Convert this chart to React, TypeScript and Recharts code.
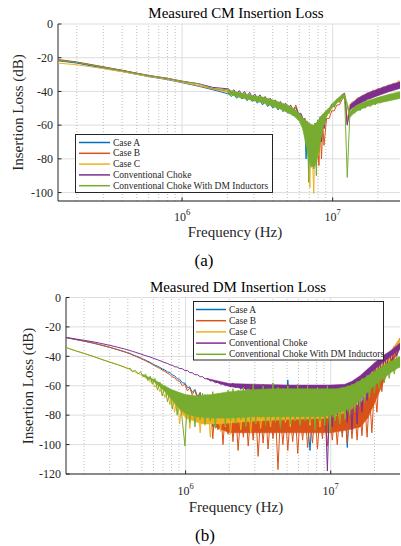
import React from "react";
import { Area, CartesianGrid, ComposedChart, Line, ReferenceLine, XAxis, YAxis } from "recharts";

// ---------- shared ----------
const seriesNames = [
  "Case A",
  "Case B",
  "Case C",
  "Conventional Choke",
  "Conventional Choke With DM Inductors",
];
const seriesColors = ["#0072BD", "#D95319", "#EDB120", "#7E2F8E", "#77AC30"];
const seriesKeys = ["a", "b", "c", "p", "g"];

const decadeTicks = [1e6, 1e7];
const minorTicks = [
  2e5, 3e5, 4e5, 5e5, 6e5, 7e5, 8e5, 9e5,
  2e6, 3e6, 4e6, 5e6, 6e6, 7e6, 8e6, 9e6,
  2e7,
];
const cmYTicks = [-100, -80, -60, -40, -20, 0];
const dmYTicks = [-120, -100, -80, -60, -40, -20, 0];

// ---------- (a) CM insertion loss : traces ----------
const cmFreq = [
  1.5e5, 2e5, 2.85e5, 4e5, 4.7e5, 6e5, 8e5, 1e6, 1.3e6, 1.6e6,
  2.04e6, 2.12e6, 2.21e6, 2.3e6, 2.4e6, 2.5e6, 2.6e6, 2.7e6, 2.81e6, 2.92e6,
  3.04e6, 3.16e6, 3.29e6, 3.42e6, 3.56e6, 3.7e6, 3.85e6, 4.0e6, 4.16e6, 4.33e6,
  4.5e6, 4.68e6, 4.87e6, 5.06e6, 5.26e6, 5.47e6, 5.69e6, 5.92e6, 6.16e6, 6.4e6,
  6.53e6, 6.66e6, 6.8e6, 6.93e6, 7.06e6, 7.2e6, 7.35e6, 7.49e6, 7.64e6, 7.79e6,
  7.95e6, 8.1e6, 8.27e6, 8.43e6, 8.6e6, 8.76e6, 9.11e6, 9.48e6, 9.86e6, 1.025e7,
  1.066e7, 1.109e7, 1.153e7, 1.2e7, 1.25e7, 1.3e7, 1.35e7, 1.4e7, 1.46e7, 1.52e7,
  1.58e7, 1.64e7, 1.71e7, 1.78e7, 1.85e7, 1.92e7, 2.0e7, 2.08e7, 2.16e7, 2.25e7,
  2.34e7, 2.43e7, 2.53e7, 2.63e7, 2.74e7, 2.85e7,
];
const cmCaseA = [
  -21.8, -23.2, -25.8, -28.2, -29.4, -31.2, -33, -34.8, -37, -39,
  -41.5, -43, -41.5, -44, -42.5, -44.5, -43, -45.5, -43.5, -46,
  -44.5, -47, -45, -48, -46, -49, -47, -50, -48, -51,
  -49, -52, -50, -53, -51, -54.5, -52.5, -57, -56.5, -62,
  -60, -80, -62, -86, -61, -78, -60, -82, -59, -76,
  -57, -70, -55, -64, -53.5, -58, -52, -52.5, -48, -49,
  -45.5, -46, -43, -42.5, -59, -51, -48, -49, -45.5, -47,
  -44, -45.5, -42.5, -44, -41, -42.5, -40, -41.5, -39, -40.5,
  -38, -39.5, -37, -38.5, -36, -37.5,
];
const cmCaseB = [
  -21, -22.5, -25, -27.5, -28.8, -30.7, -32.6, -34.5, -36.7, -38.5,
  -40, -41, -40.5, -42, -41.5, -42.5, -42, -43.5, -43, -44,
  -43.5, -44.5, -44, -45.5, -45, -46.5, -46, -47.5, -47, -48.5,
  -48, -49.5, -49, -50.5, -50, -51.5, -48, -53, -54, -57,
  -56, -60, -58, -66, -60, -72, -61, -78, -62, -85,
  -64, -84, -62, -80, -60, -72, -56, -56, -51.5, -51.5,
  -48, -48, -45, -43, -57, -51, -48, -49, -45.5, -47,
  -44, -45.5, -42.5, -44, -41, -42.5, -40, -41.5, -39, -40.5,
  -38, -39.5, -37, -38.5, -36, -37.5,
];
const cmCaseC = [
  -23.2, -24.2, -26.2, -28.3, -29.4, -31.1, -32.8, -34.5, -36.6, -38.5,
  -40.5, -41.5, -41, -42, -41.5, -42.5, -42, -43.5, -43, -44,
  -43.5, -44.5, -44, -45.5, -45, -46.5, -46, -47.5, -47, -48.5,
  -48, -49.5, -49, -50.5, -50, -52, -51.5, -54, -55, -59,
  -57, -66, -59, -80, -97, -62, -80, -100.5, -63, -84,
  -60, -78, -57, -72, -55, -62, -52, -53, -48.5, -49,
  -45.5, -46, -42.5, -42, -58, -48, -46, -47, -43.5, -45,
  -42, -43.5, -40.5, -42, -39, -40.5, -38, -39.5, -37, -38.5,
  -36, -37.5, -35, -36.5, -33.5, -35,
];
const cmConv = [
  -21.5, -22.8, -25.2, -27.5, -28.7, -30.5, -32.2, -33.9, -35.5, -37.6,
  -38.5, -40.5, -39, -41.5, -39.5, -42, -40, -43, -40.5, -43.5,
  -41.5, -44, -42, -45, -43, -46, -44, -47, -45, -48,
  -46, -49, -47, -50, -48, -51.5, -49.5, -53, -53, -57,
  -56, -62, -58, -70, -60, -74, -60, -78, -59, -80,
  -58, -72, -56, -70, -54, -62, -51.5, -52, -47.5, -48.5,
  -45, -45.5, -42, -41, -60, -50, -47.5, -49, -45, -47,
  -43.5, -45.5, -42, -44, -40.5, -42.5, -39.5, -41.5, -38.5, -40.5,
  -37.5, -39.5, -36.5, -38.5, -35, -37.5,
];
const cmConvDM = [
  -21.4, -22.8, -25.2, -27.6, -28.8, -30.6, -32.3, -34, -35.6, -38.3,
  -39, -42, -40, -43, -41, -44, -41.5, -45, -42, -45.5,
  -43, -46, -43.5, -47, -44.5, -48, -45.5, -49.5, -46.5, -50.5,
  -47.5, -51.5, -48.5, -52.5, -49.5, -54, -51, -56.5, -54.5, -61,
  -56.5, -72, -58, -94, -59.5, -85, -60, -86, -59, -90,
  -57, -76, -55, -67, -53.5, -60, -51.5, -53, -48, -49.5,
  -45.5, -46.5, -43, -42.5, -91, -54, -51, -53, -49, -51.5,
  -48, -50, -47, -49, -46, -48, -45, -47, -44, -46,
  -43, -45, -42, -44.5, -41.5, -43.5,
];

// ---------- (a) CM : spread of the dense measurement noise (low, high) ----------
const cmConvDMBandFreq = [
  2e6, 2.5e6, 3e6, 3.5e6, 4e6, 4.5e6, 5e6, 5.5e6, 6e6, 6.3e6,
  6.6e6, 6.9e6, 7.2e6, 7.5e6, 7.8e6, 8.1e6, 8.4e6, 8.7e6, 9e6, 9.5e6,
  1e7, 1.05e7, 1.1e7, 1.15e7, 1.2e7, 1.3e7, 1.4e7, 1.5e7, 1.7e7, 2e7,
  2.4e7, 2.85e7,
];
const cmConvDMLow = [
  -41.5, -44, -45.5, -47, -49, -50.5, -52.5, -54.5, -57.5, -62,
  -70, -80, -84, -85, -82, -75, -67, -60, -56, -52,
  -49.5, -47.5, -46, -44.5, -43.5, -55.5, -52.5, -51, -49, -47,
  -45.5, -44,
];
const cmConvDMHigh = [
  -39, -41, -42.5, -43.5, -45, -46.5, -48, -50, -53, -55.5,
  -57, -58.5, -59.5, -60, -58.5, -56.5, -54.5, -53, -51.5, -49.5,
  -47, -45, -43.5, -42, -41.5, -52, -49, -47.5, -45.5, -43.5,
  -41.5, -40,
];
const cmConvBandFreq = [1.3e7, 1.4e7, 1.5e7, 1.7e7, 2e7, 2.4e7, 2.85e7];
const cmConvLow = [-51, -49, -47.5, -45, -42.5, -40, -38];
const cmConvHigh = [-48, -45.5, -43.5, -41, -38.5, -36, -34];

// ---------- (b) DM insertion loss : traces ----------
const dmFreq = [
  1.5e5, 1.75e5, 2e5, 2.3e5, 2.6e5, 3e5, 3.4e5, 3.8e5, 4.0e5, 4.15e5,
  4.3e5, 4.5e5, 4.7e5, 4.9e5, 5.1e5, 5.3e5, 5.5e5, 5.7e5, 5.9e5, 6.15e5,
  6.4e5, 6.65e5, 6.9e5, 7.2e5, 7.5e5, 7.8e5, 8.1e5, 8.4e5, 8.75e5, 9.1e5,
  9.5e5, 9.9e5, 1.03e6, 1.07e6, 1.11e6, 1.16e6, 1.21e6, 1.26e6, 1.31e6, 1.36e6,
  1.42e6, 1.48e6, 1.54e6, 1.6e6, 1.67e6, 1.74e6, 1.81e6, 1.88e6, 1.96e6, 2.04e6,
  2.12e6, 2.21e6, 2.3e6, 2.4e6, 2.5e6, 2.6e6, 2.7e6, 2.81e6, 2.92e6, 3.04e6,
  3.16e6, 3.29e6, 3.42e6, 3.56e6, 3.7e6, 3.85e6, 4.0e6, 4.16e6, 4.33e6, 4.5e6,
  4.68e6, 4.87e6, 5.06e6, 5.26e6, 5.47e6, 5.69e6, 5.92e6, 6.16e6, 6.4e6, 6.66e6,
  6.93e6, 7.2e6, 7.49e6, 7.79e6, 8.1e6, 8.43e6, 8.76e6, 9.11e6, 9.48e6, 9.86e6,
  1.025e7, 1.066e7, 1.109e7, 1.153e7, 1.2e7, 1.25e7, 1.3e7, 1.35e7, 1.4e7, 1.46e7,
  1.52e7, 1.58e7, 1.64e7, 1.71e7, 1.78e7, 1.85e7, 1.92e7, 2.0e7, 2.08e7, 2.16e7,
  2.25e7, 2.34e7, 2.43e7, 2.53e7, 2.63e7, 2.74e7, 2.85e7, 3.0e7,
];
const dmCaseA = [
  -27.3, -28.6, -29.7, -31, -32.3, -33.9, -35.5, -37, -37.5, -38.1,
  -38.8, -39.6, -40.3, -41.1, -41.9, -42.6, -43.4, -44.1, -45, -46,
  -46.7, -47.5, -48.6, -49.3, -50.6, -51, -52.6, -53.2, -55.2, -55.6,
  -58, -58.2, -61.3, -60.8, -64.5, -62.5, -67.5, -64.5, -72, -66,
  -80, -68, -88, -70, -76, -71, -86, -72, -79, -70,
  -90, -73, -78, -71, -84, -73, -62, -76, -81, -72,
  -87, -74, -78, -71, -85, -73, -80, -71, -84, -72,
  -79, -74, -56, -73, -88, -72, -80, -74, -82, -73,
  -86, -104, -75, -80, -72, -88, -74, -82, -60, -76,
  -90, -73, -85, -72, -92, -74, -102, -72, -86, -70,
  -84, -67, -80, -64, -76, -60, -70, -56, -64, -50,
  -58, -44, -50, -38.5, -43, -33, -36, -28,
];
const dmCaseB = [
  -27.2, -28.5, -29.6, -30.9, -32.2, -33.8, -35.4, -36.8, -37.8, -38.3,
  -39.1, -39.8, -40.7, -41.4, -42.3, -43, -43.9, -44.6, -45.6, -46.5,
  -47.5, -48.2, -49.3, -50.2, -51.6, -52.3, -54, -54.4, -56.6, -56.9,
  -60, -59, -63.5, -61.5, -66, -63, -70, -65, -74, -68,
  -84, -70, -96, -72, -90, -74, -100, -76, -93, -75,
  -98, -77, -104, -78, -95, -76, -101, -79, -97, -77,
  -108, -80, -99, -78, -103, -80, -96, -78, -117, -80,
  -100, -79, -104, -81, -98, -78, -106, -80, -97, -79,
  -102, -81, -99, -78, -103, -80, -96, -78, -101, -80,
  -97, -79, -100, -78, -95, -77, -99, -76, -96, -75,
  -97, -73, -94, -70, -95, -66, -92, -60, -78, -52,
  -64, -45, -52, -39, -44, -33, -37, -28,
];
const dmCaseC = [
  -34, -36.2, -38, -40, -41.8, -43.8, -45.6, -47.4, -48, -49.2,
  -49.8, -50.8, -51.4, -52.6, -53, -54.8, -55, -57.5, -56.5, -61,
  -58.5, -64, -61, -68, -63, -73, -65, -78, -67, -86,
  -68, -80, -69, -89, -70, -84, -68, -92, -71, -87,
  -69, -95, -72, -86, -70, -91, -73, -88, -71, -93,
  -74, -86, -72, -90, -75, -87, -73, -92, -74, -86,
  -72, -89, -74, -85, -73, -88, -72, -84, -74, -87,
  -73, -85, -72, -88, -74, -84, -73, -86, -72, -83,
  -74, -87, -73, -85, -72, -88, -74, -84, -73, -86,
  -72, -83, -72, -85, -70, -82, -68, -79, -66, -76,
  -63, -72, -59, -68, -55, -62, -51, -56, -47, -51,
  -43, -46, -39.5, -42, -36, -38, -32, -28.5,
];
const dmConv = [
  -27.1, -28.2, -29.1, -30.1, -31.2, -32.5, -33.8, -35, -35.6, -36.1,
  -36.6, -37.2, -37.8, -38.4, -39, -39.5, -40, -40.5, -41, -41.7,
  -42.3, -42.9, -43.5, -44.3, -44.8, -45.8, -46, -47.1, -47.2, -48.3,
  -48.4, -49.7, -49.7, -51.1, -51.1, -52.5, -52.5, -53.9, -53.8, -55.3,
  -55.1, -56.7, -56.4, -57.9, -57.6, -59, -58.6, -59.9, -59.3, -60.8,
  -58.2, -61.5, -58.8, -62.5, -59, -63, -59.5, -62.5, -58.8, -63.5,
  -59.8, -62.8, -59.2, -64, -59.6, -63, -60, -63.8, -59.4, -64.5,
  -60, -63.5, -59.5, -64.2, -60.3, -63.6, -59.8, -66, -60.5, -64,
  -60, -70, -61, -65, -60.5, -78, -61, -66, -118, -62,
  -88, -61, -80, -61, -76, -60, -85, -59, -90, -57.5,
  -86, -56, -78, -52, -70, -49, -62, -46, -56, -43,
  -52, -40.5, -47, -38, -44, -35, -40, -32,
];
const dmConvDM = [
  -34, -36.3, -38, -40, -41.9, -44, -45.6, -47.4, -48.5, -48,
  -50.5, -49.5, -52, -50.5, -54, -52, -56.5, -53.5, -59, -55,
  -63, -57.5, -67, -60, -71, -63, -76, -64, -80, -65,
  -84, -101, -67, -85, -66, -88, -67, -83, -65, -86,
  -66, -84, -64, -89, -65, -82, -66, -87, -63, -84,
  -62, -86, -63, -83, -61, -88, -62, -84, -59, -86,
  -63, -82, -60, -87, -62, -84, -58, -85, -61, -89,
  -62, -83, -60, -86, -63, -84, -59, -87, -62, -84,
  -60, -85, -63, -90, -61, -84, -62, -87, -60, -92,
  -63, -84, -62, -86, -61, -83, -60, -80, -59, -78,
  -57, -74, -55, -71, -53, -68, -51, -65, -49, -62,
  -47, -58, -45, -55, -43, -52, -40.5, -48,
];

// ---------- (b) DM : spread of the dense measurement noise (low, high) ----------
const dmCaseBBandFreq = [1.3e6, 1.6e6, 2e6, 3e6, 5e6, 7e6, 1e7, 1.3e7, 1.6e7, 1.8e7, 2e7, 2.3e7, 2.6e7, 3e7];
const dmCaseBLow = [-74, -88, -92, -92, -92, -92, -92, -90, -88, -82, -72, -58, -46, -35];
const dmCaseBHigh = [-68, -74, -78, -78, -78, -78, -78, -76, -72, -66, -58, -46, -37, -27.5];
const dmCaseCBandFreq = [7e5, 8e5, 9e5, 1e6, 1.3e6, 1.7e6, 2.2e6, 3e6, 5e6, 1e7, 1.4e7, 1.8e7, 2.2e7, 2.6e7, 3e7];
const dmCaseCLow = [-62, -70, -76, -82, -86, -86, -85, -84, -83, -82, -76, -64, -52, -42, -33];
const dmCaseCHigh = [-61, -63, -66, -68, -70, -71, -72, -72, -72, -72, -64, -54, -44, -36, -28];
const dmConvBandFreq = [1.4e6, 2e6, 3e6, 5e6, 7e6, 1e7, 1.25e7, 1.4e7, 1.6e7, 1.8e7, 2e7, 2.3e7, 2.6e7, 3e7];
const dmConvLow = [-55.5, -60.5, -63, -63.5, -63.5, -64, -63, -61, -57, -53, -49, -44, -40, -35];
const dmConvHigh = [-55, -58.5, -59, -59.5, -59.5, -59.5, -59, -57, -53, -48.5, -44.5, -39.5, -36, -31];
const dmConvDMBandFreq = [
  5e5, 6e5, 7e5, 8e5, 9e5, 1e6, 1.2e6, 1.5e6, 2e6, 3e6,
  4e6, 5e6, 6e6, 7e6, 8e6, 9e6, 1e7, 1.1e7, 1.25e7, 1.4e7,
  1.6e7, 1.8e7, 2e7, 2.3e7, 2.6e7, 3e7,
];
const dmConvDMLow = [
  -52.8, -57, -62.5, -69, -75, -79, -81, -82, -82, -81,
  -81, -81, -81, -81, -81, -81, -80, -79, -77, -74,
  -69, -64, -60, -55, -51, -47,
];
const dmConvDMHigh = [
  -52.2, -55.5, -59.5, -62.5, -64.5, -66, -67, -66, -64, -62.5,
  -62, -62, -62, -62, -62, -62, -62, -62, -61, -59.5,
  -56.5, -53.5, -50.5, -46.5, -43.5, -40,
];

type Row = { f: number; a: number; b: number; c: number; p: number; g: number };
type BandRow = { f: number; band: [number, number] };

function buildRows(freq: number[], a: number[], b: number[], c: number[], p: number[], g: number[]): Row[] {
  return freq.map((f, i) => ({ f, a: a[i], b: b[i], c: c[i], p: p[i], g: g[i] }));
}
function buildBand(freq: number[], low: number[], high: number[]): BandRow[] {
  return freq.map((f, i) => ({ f, band: [low[i], high[i]] as [number, number] }));
}

const cmRows = buildRows(cmFreq, cmCaseA, cmCaseB, cmCaseC, cmConv, cmConvDM);
const dmRows = buildRows(dmFreq, dmCaseA, dmCaseB, dmCaseC, dmConv, dmConvDM);

// bands indexed by series position (a, b, c, p, g)
const cmBands: (BandRow[] | null)[] = [
  null,
  null,
  null,
  buildBand(cmConvBandFreq, cmConvLow, cmConvHigh),
  buildBand(cmConvDMBandFreq, cmConvDMLow, cmConvDMHigh),
];
const dmBands: (BandRow[] | null)[] = [
  null,
  buildBand(dmCaseBBandFreq, dmCaseBLow, dmCaseBHigh),
  buildBand(dmCaseCBandFreq, dmCaseCLow, dmCaseCHigh),
  buildBand(dmConvBandFreq, dmConvLow, dmConvHigh),
  buildBand(dmConvDMBandFreq, dmConvDMLow, dmConvDMHigh),
];

const axisColor = "#262626";
const font = "'Liberation Serif', 'DejaVu Serif', serif";

function YTick({ x, y, payload }: any) {
  return (
    <g>
      <line x1={x + 5} x2={x + 8.5} y1={y} y2={y} stroke={axisColor} />
      <text x={x} y={y} dy="0.36em" textAnchor="end" fontSize={12} fill={axisColor} style={{ fontFamily: font }}>
        {payload.value}
      </text>
    </g>
  );
}

function XTick({ x, y, payload, base }: any) {
  const exp = Math.round(Math.log10(payload.value));
  return (
    <g>
      <line x1={x} x2={x} y1={y - 4} y2={y - 7.5} stroke={axisColor} />
      <text x={x} y={y + base} textAnchor="middle" fontSize={12} fill={axisColor} style={{ fontFamily: font }}>
        10
        <tspan dy={-6} fontSize={8.5}>
          {exp}
        </tspan>
      </text>
    </g>
  );
}

type PanelProps = {
  rows: Row[];
  bands: (BandRow[] | null)[];
  xDomain: [number, number];
  yDomain: [number, number];
  yTicks: number[];
  margin: { top: number; right: number; bottom: number; left: number };
  top: number;
  tickBase: number;
};

function Panel({ rows, bands, xDomain, yDomain, yTicks, margin, top, tickBase }: PanelProps) {
  const minors = minorTicks.filter((t) => t > xDomain[0] && t < xDomain[1]);
  const items: React.ReactNode[] = [];
  seriesKeys.forEach((k, i) => {
    const band = bands[i];
    if (band) {
      items.push(
        <Area
          key={`band-${k}`}
          data={band}
          dataKey="band"
          type="linear"
          stroke={seriesColors[i]}
          strokeWidth={0.5}
          fill={seriesColors[i]}
          fillOpacity={1}
          dot={false}
          activeDot={false}
          isAnimationActive={false}
          zIndex={500 + i * 10}
        />
      );
    }
    items.push(
      <Line
        key={k}
        dataKey={k}
        type="linear"
        stroke={seriesColors[i]}
        strokeWidth={1}
        dot={false}
        activeDot={false}
        isAnimationActive={false}
        zIndex={505 + i * 10}
      />
    );
  });
  return (
    <div style={{ position: "absolute", left: 0, top }}>
      <ComposedChart width={401} height={250} data={rows} margin={margin} style={{ fontFamily: font }}>
        <CartesianGrid stroke="#dedede" vertical={false} />
        {minors.map((t) => (
          <ReferenceLine key={`m${t}`} x={t} stroke="#bdbdbd" strokeDasharray="1 2" zIndex={-50} />
        ))}
        {decadeTicks.map((t) => (
          <ReferenceLine key={`d${t}`} x={t} stroke="#dedede" zIndex={-50} />
        ))}
        <XAxis
          dataKey="f"
          type="number"
          scale="log"
          domain={xDomain}
          allowDataOverflow
          ticks={decadeTicks}
          interval={0}
          height={30}
          tickSize={0}
          tickMargin={4}
          axisLine={{ stroke: axisColor }}
          tick={<XTick base={tickBase} />}
        />
        <YAxis
          type="number"
          domain={yDomain}
          allowDataOverflow
          ticks={yTicks}
          interval={0}
          width={50}
          tickSize={0}
          tickMargin={5}
          axisLine={{ stroke: axisColor }}
          tick={<YTick />}
        />
        {items}
      </ComposedChart>
    </div>
  );
}

function LegendBox({ x, y, w, h, lineX1, lineX2, textX, rowY, rowStep }: any) {
  return (
    <g>
      <rect x={x} y={y} width={w} height={h} fill="#fff" stroke={axisColor} strokeWidth={1} />
      {seriesNames.map((name, i) => (
        <g key={name}>
          <line
            x1={lineX1}
            x2={lineX2}
            y1={rowY + i * rowStep}
            y2={rowY + i * rowStep}
            stroke={seriesColors[i]}
            strokeWidth={1.5}
          />
          <text x={textX} y={rowY + i * rowStep} dy="0.33em" fontSize={9.5} fill={axisColor} style={{ fontFamily: font }}>
            {name}
          </text>
        </g>
      ))}
    </g>
  );
}

export default function App() {
  const t = { fontFamily: font };
  return (
    <div
      style={{
        position: "absolute",
        left: 0,
        top: 0,
        width: 401,
        height: 546,
        overflow: "hidden",
        background: "#fff",
        fontFamily: font,
      }}
    >
      <Panel
        rows={cmRows}
        bands={cmBands}
        xDomain={[1.5e5, 2.8e7]}
        yDomain={[-105, 0]}
        yTicks={cmYTicks}
        margin={{ top: 24, right: 1, bottom: 19, left: 8 }}
        top={0}
        tickBase={16}
      />
      <Panel
        rows={dmRows}
        bands={dmBands}
        xDomain={[1.5e5, 3e7]}
        yDomain={[-120, 0]}
        yTicks={dmYTicks}
        margin={{ top: 22.5, right: 1, bottom: 21, left: 16 }}
        top={275}
        tickBase={17}
      />
      <svg width={401} height={546} style={{ position: "absolute", left: 0, top: 0, pointerEvents: "none" }}>
        <g>
          <text x={236} y={18} textAnchor="middle" fontSize={15} fill="#000" style={t}>
            Measured CM Insertion Loss
          </text>
          <text x={235} y={237} textAnchor="middle" fontSize={15} fill={axisColor} style={t}>
            Frequency (Hz)
          </text>
          <text x={23} y={112.5} textAnchor="middle" fontSize={15} fill={axisColor} style={t} transform="rotate(-90 23 112.5)">
            Insertion Loss (dB)
          </text>
          <text x={204} y={266} textAnchor="middle" fontSize={17} fill="#000" style={t}>
            (a)
          </text>

          <text x={238} y={292} textAnchor="middle" fontSize={15} fill="#000" style={t}>
            Measured DM Insertion Loss
          </text>
          <text x={236} y={512} textAnchor="middle" fontSize={15} fill={axisColor} style={t}>
            Frequency (Hz)
          </text>
          <text x={33} y={386} textAnchor="middle" fontSize={15} fill={axisColor} style={t} transform="rotate(-90 33 386)">
            Insertion Loss (dB)
          </text>
          <text x={205} y={541} textAnchor="middle" fontSize={17} fill="#000" style={t}>
            (b)
          </text>
        </g>
        <LegendBox x={75.5} y={134.5} w={197} h={58} lineX1={79} lineX2={110} textX={113} rowY={142.5} rowStep={10.8} />
        <LegendBox x={193.5} y={301.5} w={190} h={58.5} lineX1={196} lineX2={226} textX={229} rowY={309.5} rowStep={11.2} />
      </svg>
    </div>
  );
}
